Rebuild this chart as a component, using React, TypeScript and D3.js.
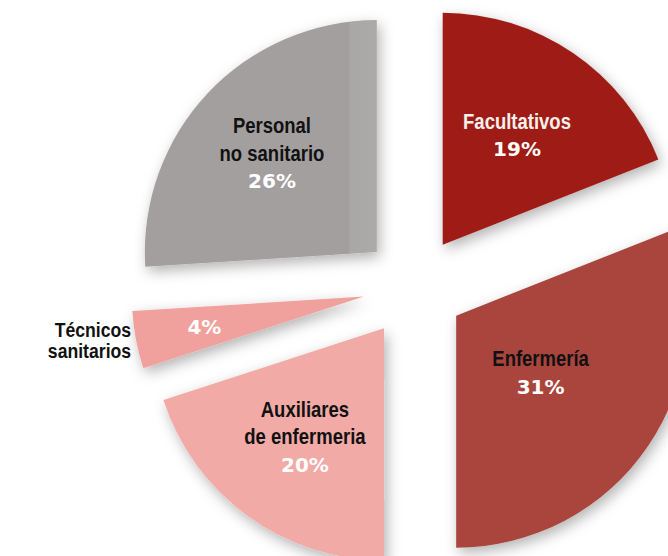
import React from "react";
import * as d3 from "d3";

const categories = ["Facultativos", "Enfermería", "Auxiliares de enfermeria", "Técnicos sanitarios", "Personal no sanitario"];
const labelLines = [["Facultativos"], ["Enfermería"], ["Auxiliares", "de enfermeria"], ["Técnicos", "sanitarios"], ["Personal", "no sanitario"]];
const values = [19, 31, 20, 4, 26];
const colors = ["#9f1d18", "#a9443d", "#f1aaa6", "#f0a19d", "#a39f9f"];
const labelColors = ["#f7f0ea", "#111111", "#111111", "#111111", "#111111"];
const labelRadiusFrac = [0.57, 0.44, 0.58, 0.7, 0.62];
const outsideLabel = [false, false, false, true, false];

const W = 668;
const H = 556;
const R = 232;
const CX = 414;
const CY = 287;
const EXPLODE = 51;
const SX = 0.86;

export default function App() {
  const pie = d3.pie<number>().sort(null).value((d) => d).startAngle(0).endAngle(2 * Math.PI);
  const arcs = pie(values);
  const arcGen = d3.arc<d3.PieArcDatum<number>>().innerRadius(0).outerRadius(R);
  const labelFont = "'Liberation Sans', Arial, sans-serif";
  const pctFont = "'DejaVu Sans', sans-serif";

  const Label = ({ x, y, t, fill, anchor, size }: { x: number; y: number; t: string; fill: string; anchor: string; size: number }) => (
    <text
      transform={`translate(${x},${y}) scale(${SX},1)`}
      textAnchor={anchor}
      fontFamily={labelFont}
      fontWeight="bold"
      fontSize={size}
      fill={fill}
    >
      {t}
    </text>
  );

  return (
    <svg width={W} height={H} style={{ position: "absolute", left: 0, top: 0, background: "#fff" }}>
      <defs>
        <filter id="sh" x="-30%" y="-30%" width="160%" height="160%">
          <feDropShadow dx="3" dy="5" stdDeviation="7" floodColor="#000" floodOpacity="0.3" />
        </filter>
        <linearGradient id="grayStrip" gradientUnits="userSpaceOnUse" x1={-R} y1={0} x2={0} y2={0}>
          <stop offset="0" stopColor={colors[4]} />
          <stop offset="0.88" stopColor={colors[4]} />
          <stop offset="0.885" stopColor="#aaa7a7" />
          <stop offset="1" stopColor="#aca9a9" />
        </linearGradient>
      </defs>
      <g transform={`translate(${CX},${CY})`}>
        {arcs.map((a, i) => {
          const mid = (a.startAngle + a.endAngle) / 2;
          const ox = Math.sin(mid) * EXPLODE;
          const oy = -Math.cos(mid) * EXPLODE;
          return (
            <g key={i} transform={`translate(${ox},${oy})`}>
              <path d={arcGen(a) || ""} fill={i === 4 ? "url(#grayStrip)" : colors[i]} filter="url(#sh)" />
            </g>
          );
        })}
        {arcs.map((a, i) => {
          const mid = (a.startAngle + a.endAngle) / 2;
          const ox = Math.sin(mid) * EXPLODE;
          const oy = -Math.cos(mid) * EXPLODE;
          const lr = R * labelRadiusFrac[i];
          const lx = ox + Math.sin(mid) * lr;
          const ly = oy - Math.cos(mid) * lr;
          const lines = labelLines[i];
          if (outsideLabel[i]) {
            const tx = ox + Math.sin(mid) * (R + 5);
            const ty = oy - Math.cos(mid) * (R + 5);
            return (
              <g key={"l" + i}>
                {lines.map((t, k) => (
                  <Label key={k} x={tx} y={ty - 4 + k * 21.5} t={t} fill={labelColors[i]} anchor="end" size={20.5} />
                ))}
                <text x={lx} y={ly + 7} textAnchor="middle" fontFamily={pctFont} fontWeight="bold" fontSize={20} fill="#fff">
                  {values[i]}%
                </text>
              </g>
            );
          }
          const lineH = 27.5;
          const n = lines.length + 1;
          const top = ly - ((n - 1) * lineH) / 2 + 7;
          return (
            <g key={"l" + i}>
              {lines.map((t, k) => (
                <Label key={k} x={lx} y={top + k * lineH} t={t} fill={labelColors[i]} anchor="middle" size={21.5} />
              ))}
              <text x={lx} y={top + lines.length * lineH} textAnchor="middle" fontFamily={pctFont} fontWeight="bold" fontSize={20} fill="#fff">
                {values[i]}%
              </text>
            </g>
          );
        })}
      </g>
    </svg>
  );
}
